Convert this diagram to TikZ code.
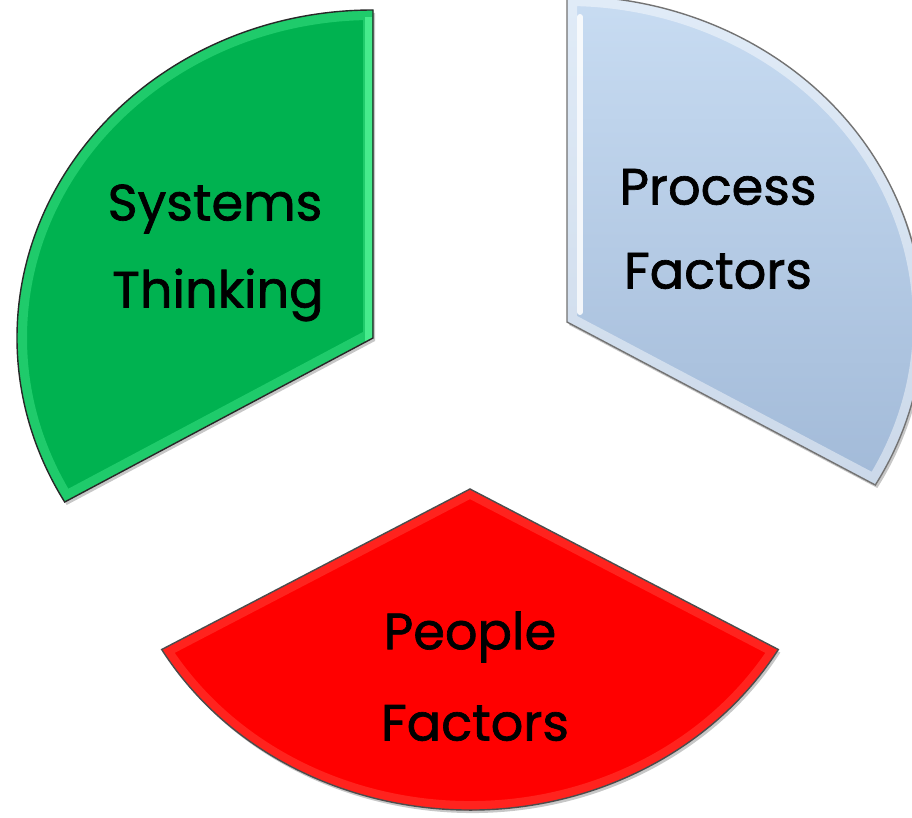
\documentclass[tikz,border=0pt]{standalone}
\usepackage{fontspec}
\setmainfont{Poppins}
\definecolor{wgreen}{RGB}{0,178,80}
\definecolor{wgreenlight}{RGB}{70,235,140}
\definecolor{wbluetop}{RGB}{200,220,242}
\definecolor{wbluebot}{RGB}{162,186,216}
\definecolor{wred}{RGB}{255,0,0}
\definecolor{wredlight}{RGB}{255,70,60}
\definecolor{edge}{RGB}{40,40,40}
\tikzset{
  wedgeshadow/.style={fill=black,opacity=0.22,shift={(2,-3)}},
  wedgeedge/.style={draw=edge,line width=1.4},
  label/.style={font=\fontsize{51}{56}\selectfont\addfontfeature{FakeBold=1.3},text=black,align=center}
}
% the three wedges of the exploded pie
\def\greenwedge{(373,479) -- (373,807) arc[start angle=90,end angle=210,x radius=356,y radius=328] -- cycle}
\def\bluewedge{(567,495) -- (875.3,332) arc[start angle=-30,end angle=90,x radius=356,y radius=326] -- cycle}
\def\redwedge{(470,328) -- (161.7,167.5) arc[start angle=210,end angle=330,x radius=356,y radius=321] -- cycle}
\begin{document}
\begin{tikzpicture}[x=1pt,y=1pt]
\useasboundingbox (0,0) rectangle (912,817);
\fill[white] (0,0) rectangle (912,817);
\clip (0,0) rectangle (912,817);

% soft shadows
\fill[wedgeshadow] \greenwedge;
\fill[wedgeshadow] \bluewedge;
\fill[wedgeshadow] \redwedge;

% green wedge with bevelled rim
\fill[wgreen] \greenwedge;
\begin{scope}
  \clip \greenwedge;
  \draw[wgreenlight,opacity=0.45,line width=20] \greenwedge;
  \draw[wgreenlight,line width=7] (368,800) -- (368,342);
\end{scope}
\draw[wedgeedge] \greenwedge;

% blue wedge with gradient and highlight
\shade[top color=wbluetop,bottom color=wbluebot] \bluewedge;
\begin{scope}
  \clip \bluewedge;
  \draw[white,opacity=0.45,line width=20] \bluewedge;
  \draw[white,opacity=0.85,line width=6,line cap=round] (580,800) -- (580,505);
\end{scope}
\draw[wedgeedge,draw=black!55] \bluewedge;

% red wedge
\fill[wred] \redwedge;
\begin{scope}
  \clip \redwedge;
  \draw[wredlight,opacity=0.5,line width=18] \redwedge;
\end{scope}
\draw[wedgeedge,draw=black!70] \redwedge;

% labels
\node[label] (systems) at (215,608) {Systems};
\node[label] (thinking) at (218,522) {Thinking};
\node[label] (process) at (718,630) {Process};
\node[label] (procfactors) at (718,546) {Factors};
\node[label] (people) at (470,180) {People};
\node[label] (peopfactors) at (475,94) {Factors};
\end{tikzpicture}
\end{document}
